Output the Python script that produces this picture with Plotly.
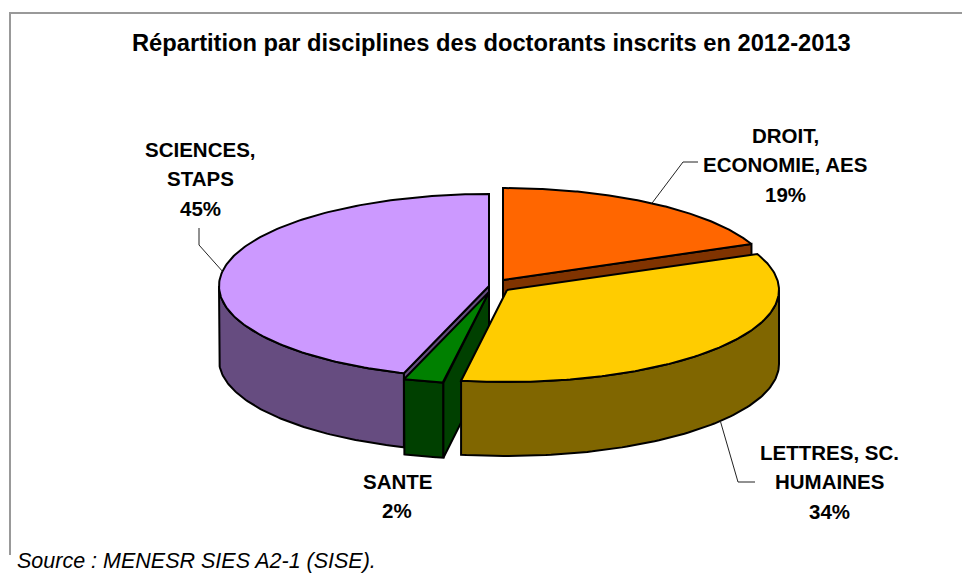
import numpy as np
import plotly.graph_objects as go

# ---- data ----
categories = ["DROIT,\nECONOMIE, AES", "LETTRES, SC.\nHUMAINES", "SANTE", "SCIENCES,\nSTAPS"]
values = [18.6, 34.1, 2.4, 44.9]

# ---- style / layout ----
top_colors = ["#FF6600", "#FFCC00", "#008000", "#CC99FF"]
wall_colors = ["#803300", "#806600", "#004000", "#664C80"]
centers = [(503, 280), (507, 290), (489, 292), (489, 286)]
radii = [(270, 92), (272, 92), (270, 92), (270, 92)]
depths = [74, 74, 75, 74]
label_pos = [(785, 135), (829, 452), (397, 481), (200, 149)]
LINE_GAP = 29.5
FONT = "Liberation Sans, Arial, sans-serif"

cum = np.cumsum([0] + values)
starts = cum[:-1] * 3.6
ends = cum[1:] * 3.6


def pt(i, t, dz=0.0):
    cx, cy = centers[i]
    rx, ry = radii[i]
    r = np.radians(t)
    return cx + rx * np.sin(r), cy - ry * np.cos(r) + dz


fig = go.Figure()


def poly(xs, ys, color):
    fig.add_trace(go.Scatter(
        x=list(xs) + [xs[0]], y=list(ys) + [ys[0]], mode="lines", fill="toself",
        fillcolor=color, line=dict(color="black", width=2), hoverinfo="skip", showlegend=False))


def cut_face(i, t):
    d = depths[i]
    cx, cy = centers[i]
    x1, y1 = pt(i, t)
    poly([cx, x1, x1, cx], [cy, y1, y1 + d, cy + d], wall_colors[i])


def outer_wall(i, a, b):
    ts = np.linspace(a, b, 90)
    xs, ys = pt(i, ts)
    d = depths[i]
    poly(list(xs) + list(xs[::-1]), list(ys) + list(ys[::-1] + d), wall_colors[i])


def top(i):
    ts = np.linspace(starts[i], ends[i], 160)
    xs, ys = pt(i, ts)
    cx, cy = centers[i]
    poly([cx] + list(xs), [cy] + list(ys), top_colors[i])


# back-to-front drawing order: science, droit, sante, lettres
outer_wall(3, starts[3], 270)
cut_face(3, starts[3])
top(3)
cut_face(0, ends[0])
top(0)
outer_wall(2, starts[2], ends[2])
cut_face(2, starts[2])
top(2)
outer_wall(1, 90, ends[1])
top(1)

# leader lines, anchored at the middle of each slice
mid = (starts + ends) / 2
x0, y0 = pt(0, mid[0])
x1, y1 = pt(1, mid[1], depths[1])
x3, y3 = pt(3, mid[3])
leaders = [
    ([x0, 683, 698], [y0, 162, 162]),
    ([x1, 738, 755], [y1, 482, 482]),
    ([x3, 199, 199], [y3, 245, 228]),
]
for lx, ly in leaders:
    fig.add_trace(go.Scatter(x=lx, y=ly, mode="lines", line=dict(color="#222222", width=1),
                             hoverinfo="skip", showlegend=False))

annotations = []
for cat, val, (lx, ly) in zip(categories, values, label_pos):
    lines = cat.split("\n") + [f"{round(val)}%"]
    for k, line in enumerate(lines):
        annotations.append(dict(
            x=lx, y=ly + k * LINE_GAP, text=f"<b>{line}</b>", showarrow=False,
            xanchor="center", yanchor="middle",
            font=dict(family=FONT, size=20.5, color="black")))

annotations.append(dict(
    x=491, y=43, showarrow=False, xanchor="center", yanchor="middle",
    text="<b>Répartition par disciplines des doctorants inscrits en 2012-2013</b>",
    font=dict(family=FONT, size=23.7, color="black")))
annotations.append(dict(
    x=15, y=560.5, showarrow=False, xanchor="left", yanchor="middle",
    text="<i>Source : MENESR SIES A2-1 (SISE).</i>",
    font=dict(family=FONT, size=21.5, color="black")))

frame = dict(color="#999999", width=2)
shapes = [
    dict(type="line", x0=10, x1=10, y0=13, y1=555, line=frame, layer="below"),
    dict(type="line", x0=9, x1=962, y0=13, y1=13, line=frame, layer="below"),
]

fig.update_layout(
    width=962, height=574, margin=dict(l=0, r=0, t=0, b=0),
    paper_bgcolor="white", plot_bgcolor="white", showlegend=False,
    xaxis=dict(range=[0, 962], visible=False, fixedrange=True),
    yaxis=dict(range=[574, 0], visible=False, fixedrange=True),
    annotations=annotations, shapes=shapes,
)
fig.write_html("out.html", config={"displayModeBar": False},
               post_script="document.body.style.margin='0';document.body.style.overflow='hidden';")
